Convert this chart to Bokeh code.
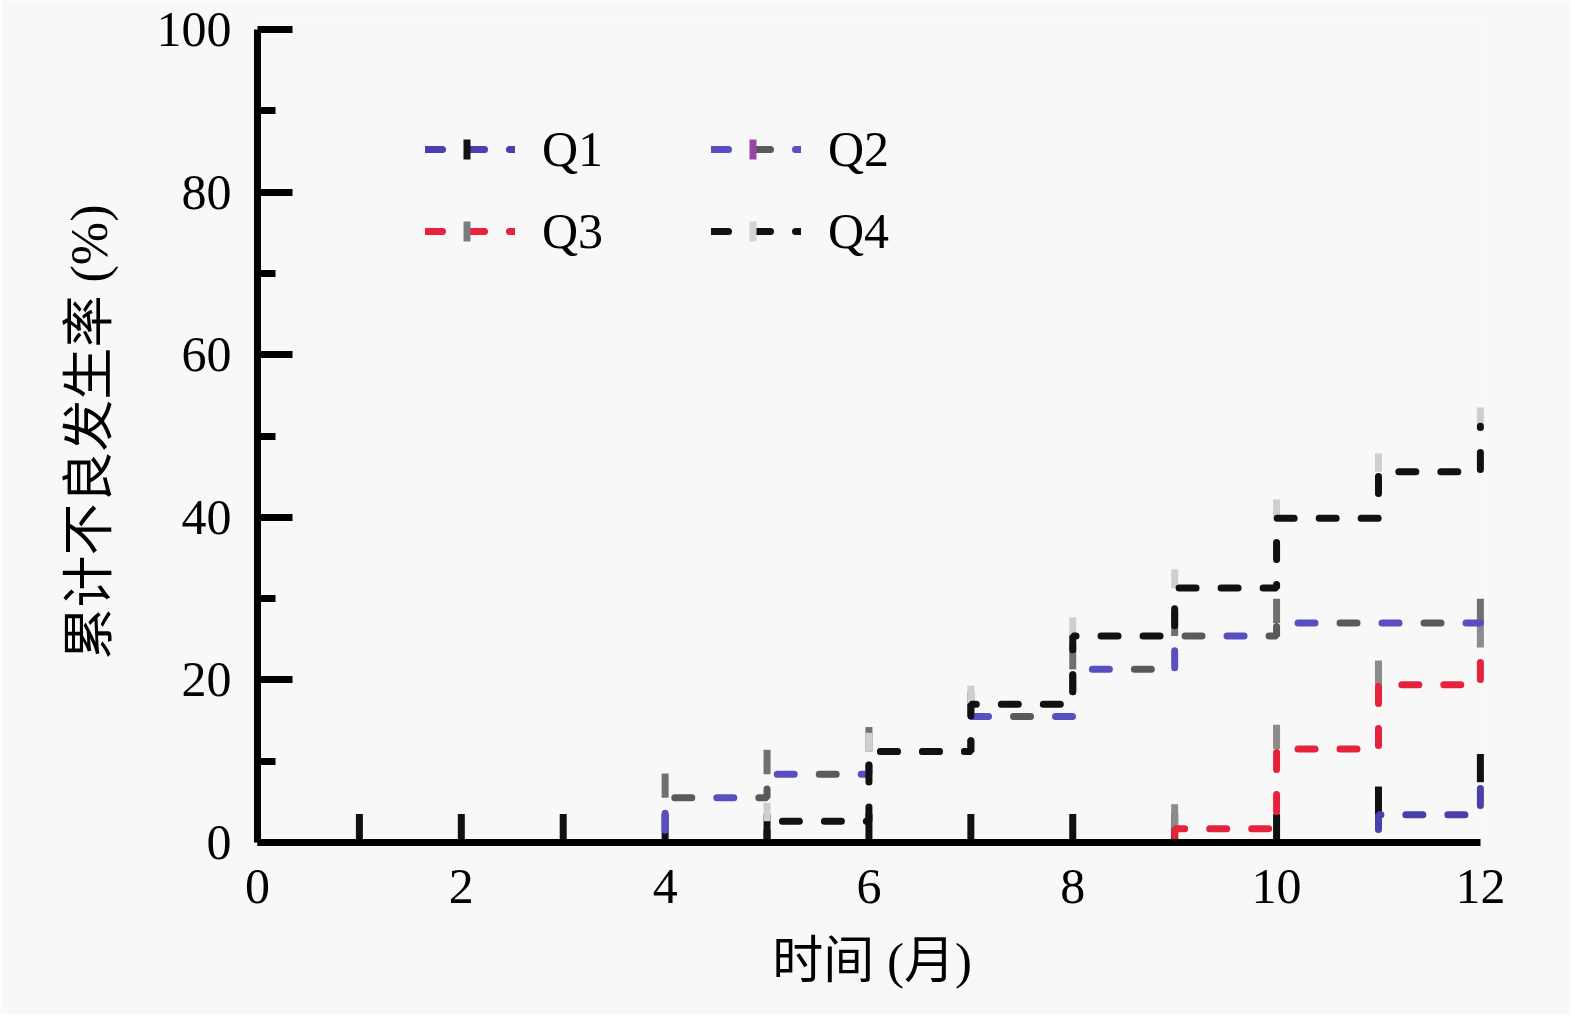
import numpy as np
from bokeh.plotting import figure
from bokeh.models import ColumnDataSource, Legend, LegendItem, Range1d, FixedTicker, Title
from bokeh.embed import file_html
from bokeh.resources import INLINE

# ---------------- data ----------------
months = [0, 1, 2, 3, 4, 5, 6, 7, 8, 9, 10, 11, 12]
q1 = [0, 0, 0, 0, 0, 0, 0, 0, 0, 0, 0, 3.4, 7.4]
q2 = [0, 0, 0, 0, 5.5, 8.4, 11.2, 15.5, 21.3, 25.4, 27.0, 27.0, 27.0]
q3 = [0, 0, 0, 0, 0, 0, 0, 0, 0, 1.7, 11.5, 19.4, 24.0]
q4 = [0, 0, 0, 0, 0, 2.6, 11.2, 17.0, 25.4, 31.3, 39.9, 45.6, 51.2]

q1_censor = [1, 2, 3, 4, 5, 6, 7, 8, 9, 10, 11, 12]
q2_censor = [4, 5, 6, 7, 8, 9, 10, 12]
q3_censor = [9, 10, 11, 12]
q4_censor = [5, 6, 7, 8, 9, 10, 11, 12]

series_names = ["Q1", "Q2", "Q3", "Q4"]
x_ticks = [0, 2, 4, 6, 8, 10, 12]
y_ticks = [0, 20, 40, 60, 80, 100]
y_minor = [10, 30, 50, 70, 90]
x_title = "时间 (月)"
y_title = "累计不良发生率 (%)"

# ---------------- styles ----------------
SERIF = "Liberation Serif"
MIXED = "'Liberation Serif', 'Noto Sans CJK SC'"
BG = "#f8f8f8"
LW = 7
DASH = "17 25"

p = figure(width=1570, height=1014, output_backend="svg", toolbar_location=None,
           x_range=Range1d(0, 12.06), y_range=Range1d(0, 101),
           min_border_left=257, min_border_right=84, min_border_top=21, min_border_bottom=171)
p.background_fill_color = BG
p.border_fill_color = BG
p.outline_line_color = None
p.grid.visible = False

# axes
xa = p.xaxis[0]
xa.ticker = FixedTicker(ticks=x_ticks, minor_ticks=[])
xa.bounds = (0, 12)
xa.axis_line_width = 7
xa.axis_line_color = "black"
xa.major_tick_in = 0
xa.major_tick_out = 0
xa.minor_tick_in = 0
xa.minor_tick_out = 0
xa.major_label_text_font = SERIF
xa.major_label_text_font_size = "50px"
xa.major_label_text_color = "black"
xa.major_label_standoff = 27

ya = p.yaxis[0]
ya.ticker = FixedTicker(ticks=y_ticks, minor_ticks=y_minor)
ya.bounds = (0, 100)
ya.axis_line_width = 7
ya.axis_line_color = "black"
ya.major_tick_in = 35
ya.major_tick_out = 0
ya.minor_tick_in = 18
ya.minor_tick_out = 0
ya.major_tick_line_width = 7
ya.minor_tick_line_width = 7
ya.major_tick_line_color = "black"
ya.minor_tick_line_color = "black"
ya.major_label_text_font = SERIF
ya.major_label_text_font_size = "50px"
ya.major_label_text_color = "black"
ya.major_label_standoff = 26
ya.axis_label = y_title
ya.axis_label_text_font = MIXED
ya.axis_label_text_font_size = "52px"
ya.axis_label_text_font_style = "normal"
ya.axis_label_text_color = "black"
ya.axis_label_standoff = 36

# x-axis title in its own panel under the tick labels
p.add_layout(Title(text=x_title, align="center", standoff=51,
                   text_font=MIXED, text_font_size="51px", text_font_style="normal",
                   text_color="black"), "below")

values = {"Q1": q1, "Q2": q2, "Q3": q3, "Q4": q4}
censors = {"Q1": q1_censor, "Q2": q2_censor, "Q3": q3_censor, "Q4": q4_censor}
tick_len = {"Q1": 3.5, "Q2": 3.0, "Q3": 3.0, "Q4": 2.3}
tick_col = {"Q1": "#111111", "Q2": "#707070", "Q3": "#8c8c8c", "Q4": "#cfcfcf"}
legend_tick_col = {"Q1": "#111111", "Q2": "#9a46a8", "Q3": "#7c7c7c", "Q4": "#d4d4d4"}

# censor ticks (drawn first)
for name in series_names:
    vals = values[name]
    cx = np.array(censors[name], dtype=float)
    cy = np.array([vals[months.index(int(m))] for m in censors[name]], dtype=float)
    src = ColumnDataSource(dict(x=cx, y0=cy, y1=cy + tick_len[name]))
    p.segment(x0="x", y0="y0", x1="x", y1="y1", source=src,
              line_color=tick_col[name], line_width=7, line_cap="butt")

renderers = {}
src1 = ColumnDataSource(dict(x=months, y=q1))
renderers["Q1"] = [p.step("x", "y", source=src1, mode="after", line_color="#4a3fae",
                          line_width=LW, line_dash=DASH, line_cap="round")]
src2 = ColumnDataSource(dict(x=months, y=q2))
r2a = p.step("x", "y", source=src2, mode="after", line_color="#5a4fc0",
             line_width=LW, line_dash="17 67", line_cap="round")
r2b = p.step("x", "y", source=src2, mode="after", line_color="#5a5a5a",
             line_width=LW, line_dash="17 67", line_dash_offset=-42, line_cap="round")
renderers["Q2"] = [r2a, r2b]
src3 = ColumnDataSource(dict(x=months, y=q3))
renderers["Q3"] = [p.step("x", "y", source=src3, mode="after", line_color="#e6223c",
                          line_width=LW, line_dash=DASH, line_cap="round")]
src4 = ColumnDataSource(dict(x=months, y=q4))
renderers["Q4"] = [p.step("x", "y", source=src4, mode="after", line_color="#111111",
                          line_width=LW, line_dash=DASH, line_cap="round")]

# legend-only censor-tick glyphs (NaN data: nothing drawn in the plot)
items = []
for name in series_names:
    proxy = ColumnDataSource(dict(x=[np.nan], y=[np.nan]))
    lt = p.line("x", "y", source=proxy, line_color=legend_tick_col[name], line_width=20,
                line_dash="7 300", line_dash_offset=-38, line_cap="butt")
    items.append(LegendItem(label=name, renderers=renderers[name] + [lt]))

legend = Legend(items=items, orientation="horizontal", ncols=2,
                location=(168, 582), glyph_width=90, glyph_height=40,
                label_width=145, label_height=40, label_standoff=27, spacing=24,
                padding=0, margin=0, background_fill_alpha=0, border_line_alpha=0,
                label_text_font=SERIF, label_text_font_size="50px", label_text_color="black")
p.add_layout(legend, "center")

open("out.html", "w").write(file_html(p, INLINE))
